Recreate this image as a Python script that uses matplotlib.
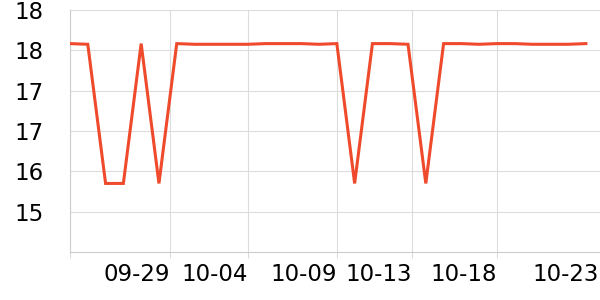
import numpy as np
import matplotlib
matplotlib.use("Agg")
import matplotlib.pyplot as plt

plt.rcParams.update({
    "font.family": "DejaVu Sans",
    "font.size": 16.5,
})

# daily readings, evenly spaced samples
values = [17.90, 17.89, 15.82, 15.82, 17.90, 15.82, 17.90, 17.89, 17.89, 17.89,
          17.89, 17.90, 17.90, 17.90, 17.89, 17.90, 15.82, 17.90, 17.90, 17.89,
          15.82, 17.90, 17.90, 17.89, 17.90, 17.90, 17.89, 17.89, 17.89, 17.90]

x_tick_pos = [0, 5.62, 10.0, 15.0, 19.2, 24.0, 29.75]
x_tick_labels = ["", "09-29", "10-04", "10-09", "10-13", "10-18", "10-23"]

y_ticks = [18.4, 17.8, 17.2, 16.6, 16.0, 15.4]
y_tick_labels = [f"{v:.0f}" for v in y_ticks]

fig = plt.figure(figsize=(6, 3), dpi=100)
ax = fig.add_axes([70 / 600, 48 / 300, 533.7 / 600, 242 / 300])

x = np.arange(len(values))
ax.plot(x, values, color="#EF4A2C", lw=2.2, solid_joinstyle="miter", zorder=3)

ax.set_xlim(0, 30)
ax.set_ylim(14.8, 18.4)
ax.set_xticks(x_tick_pos)
ax.set_xticklabels(x_tick_labels, ha="right")
ax.set_yticks(y_ticks)
ax.set_yticklabels(y_tick_labels)

ax.grid(True, color="#dcdcdc", lw=0.8)
for s in ["top", "right"]:
    ax.spines[s].set_visible(False)
for s in ["left", "bottom"]:
    ax.spines[s].set_color("#cccccc")
    ax.spines[s].set_linewidth(0.8)
ax.tick_params(axis="y", length=0, pad=19)
ax.tick_params(axis="x", length=4, color="#dcdcdc", width=0.8, pad=4)

# last label sits at the edge, its tick and grid line are not shown
last = ax.xaxis.get_major_ticks()[-1]
last.tick1line.set_visible(False)
last.gridline.set_visible(False)

fig.savefig("out.png", dpi=100)
